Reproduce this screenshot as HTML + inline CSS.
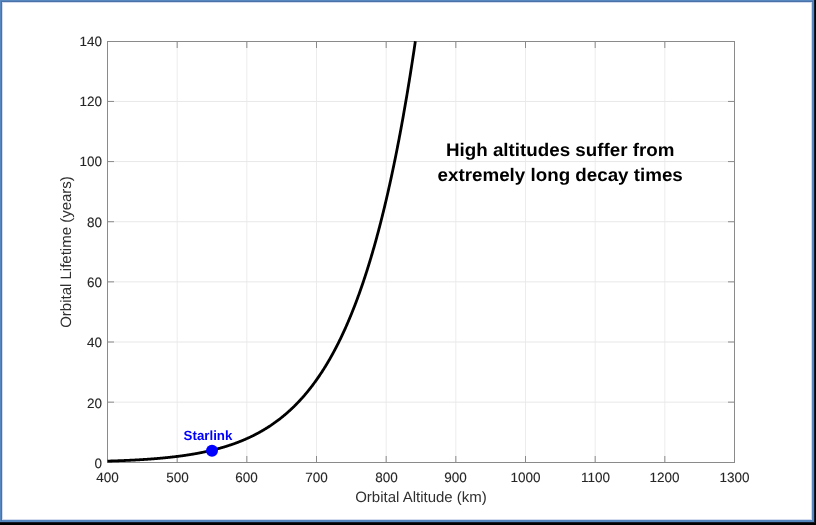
<!DOCTYPE html>
<html><head><meta charset="utf-8"><style>
html,body{margin:0;padding:0;background:#000;width:816px;height:525px;overflow:hidden}
svg{display:block;will-change:transform}
text{font-family:"Liberation Sans",sans-serif;text-rendering:geometricPrecision}
.tl{font-size:13.5px;fill:#262626;stroke:#262626;stroke-width:0.1px}
.al{font-size:15px;fill:#303030}
.sl{font-size:13.3px;font-weight:bold;fill:#0000ff}
.an{font-size:18.2px;font-weight:bold;fill:#000}
</style></head><body>
<svg width="816" height="525" viewBox="0 0 816 525">
<rect x="0" y="0" width="816" height="525" fill="#000"/>
<rect x="0" y="0" width="815" height="523" fill="#141a28"/>
<rect x="0" y="0" width="814" height="522" fill="#5787bf"/>
<rect x="1" y="1" width="1" height="520" fill="#4a72a8"/>
<rect x="1" y="1" width="812" height="1" fill="#4a72a8"/>
<rect x="2" y="2" width="810" height="518" fill="#d3dcef"/>
<rect x="3" y="3" width="808" height="516" fill="#fff"/>
<rect x="176.67" y="42.00" width="1.00" height="420.00" fill="#ececec"/>
<rect x="246.33" y="42.00" width="1.00" height="420.00" fill="#ececec"/>
<rect x="316.00" y="42.00" width="1.00" height="420.00" fill="#ececec"/>
<rect x="385.67" y="42.00" width="1.00" height="420.00" fill="#ececec"/>
<rect x="455.33" y="42.00" width="1.00" height="420.00" fill="#ececec"/>
<rect x="525.00" y="42.00" width="1.00" height="420.00" fill="#ececec"/>
<rect x="594.67" y="42.00" width="1.00" height="420.00" fill="#ececec"/>
<rect x="664.33" y="42.00" width="1.00" height="420.00" fill="#ececec"/>
<rect x="108.00" y="401.65" width="626.00" height="1.00" fill="#e8e8e8"/>
<rect x="108.00" y="341.50" width="626.00" height="1.00" fill="#e8e8e8"/>
<rect x="108.00" y="281.36" width="626.00" height="1.00" fill="#e8e8e8"/>
<rect x="108.00" y="221.22" width="626.00" height="1.00" fill="#e8e8e8"/>
<rect x="108.00" y="161.08" width="626.00" height="1.00" fill="#e8e8e8"/>
<rect x="108.00" y="100.93" width="626.00" height="1.00" fill="#e8e8e8"/>
<rect x="176.67" y="456.00" width="1.00" height="6.00" fill="#8a8a8a"/>
<rect x="176.67" y="42.00" width="1.00" height="6.00" fill="#8a8a8a"/>
<rect x="246.33" y="456.00" width="1.00" height="6.00" fill="#8a8a8a"/>
<rect x="246.33" y="42.00" width="1.00" height="6.00" fill="#8a8a8a"/>
<rect x="316.00" y="456.00" width="1.00" height="6.00" fill="#8a8a8a"/>
<rect x="316.00" y="42.00" width="1.00" height="6.00" fill="#8a8a8a"/>
<rect x="385.67" y="456.00" width="1.00" height="6.00" fill="#8a8a8a"/>
<rect x="385.67" y="42.00" width="1.00" height="6.00" fill="#8a8a8a"/>
<rect x="455.33" y="456.00" width="1.00" height="6.00" fill="#8a8a8a"/>
<rect x="455.33" y="42.00" width="1.00" height="6.00" fill="#8a8a8a"/>
<rect x="525.00" y="456.00" width="1.00" height="6.00" fill="#8a8a8a"/>
<rect x="525.00" y="42.00" width="1.00" height="6.00" fill="#8a8a8a"/>
<rect x="594.67" y="456.00" width="1.00" height="6.00" fill="#8a8a8a"/>
<rect x="594.67" y="42.00" width="1.00" height="6.00" fill="#8a8a8a"/>
<rect x="664.33" y="456.00" width="1.00" height="6.00" fill="#8a8a8a"/>
<rect x="664.33" y="42.00" width="1.00" height="6.00" fill="#8a8a8a"/>
<rect x="108.00" y="401.65" width="6.00" height="1.00" fill="#8a8a8a"/>
<rect x="728.00" y="401.65" width="6.00" height="1.00" fill="#8a8a8a"/>
<rect x="108.00" y="341.50" width="6.00" height="1.00" fill="#8a8a8a"/>
<rect x="728.00" y="341.50" width="6.00" height="1.00" fill="#8a8a8a"/>
<rect x="108.00" y="281.36" width="6.00" height="1.00" fill="#8a8a8a"/>
<rect x="728.00" y="281.36" width="6.00" height="1.00" fill="#8a8a8a"/>
<rect x="108.00" y="221.22" width="6.00" height="1.00" fill="#8a8a8a"/>
<rect x="728.00" y="221.22" width="6.00" height="1.00" fill="#8a8a8a"/>
<rect x="108.00" y="161.08" width="6.00" height="1.00" fill="#8a8a8a"/>
<rect x="728.00" y="161.08" width="6.00" height="1.00" fill="#8a8a8a"/>
<rect x="108.00" y="100.93" width="6.00" height="1.00" fill="#8a8a8a"/>
<rect x="728.00" y="100.93" width="6.00" height="1.00" fill="#8a8a8a"/>
<rect x="107.00" y="41.00" width="628.00" height="1.00" fill="#8a8a8a"/>
<rect x="107.00" y="462.00" width="628.00" height="1.00" fill="#8a8a8a"/>
<rect x="107.00" y="41.00" width="1.00" height="422.00" fill="#8a8a8a"/>
<rect x="734.00" y="41.00" width="1.00" height="422.00" fill="#8a8a8a"/>
<path d="M107.50,461.12 L107.85,461.11 L108.20,461.10 L108.55,461.09 L108.89,461.08 L109.24,461.07 L109.59,461.06 L109.94,461.04 L110.29,461.03 L110.64,461.02 L110.98,461.01 L111.33,461.00 L111.68,460.99 L112.03,460.98 L112.38,460.97 L112.72,460.96 L113.07,460.94 L113.42,460.93 L113.77,460.92 L114.12,460.91 L114.47,460.90 L114.81,460.89 L115.16,460.87 L115.51,460.86 L115.86,460.85 L116.21,460.84 L116.56,460.82 L116.91,460.81 L117.25,460.80 L117.60,460.79 L117.95,460.77 L118.30,460.76 L118.65,460.75 L119.00,460.73 L119.34,460.72 L119.69,460.71 L120.04,460.69 L120.39,460.68 L120.74,460.67 L121.08,460.65 L121.43,460.64 L121.78,460.63 L122.13,460.61 L122.48,460.60 L122.83,460.58 L123.17,460.57 L123.52,460.55 L123.87,460.54 L124.22,460.52 L124.57,460.51 L124.92,460.49 L125.27,460.48 L125.61,460.46 L125.96,460.45 L126.31,460.43 L126.66,460.42 L127.01,460.40 L127.36,460.39 L127.70,460.37 L128.05,460.36 L128.40,460.34 L128.75,460.32 L129.10,460.31 L129.44,460.29 L129.79,460.27 L130.14,460.26 L130.49,460.24 L130.84,460.22 L131.19,460.21 L131.53,460.19 L131.88,460.17 L132.23,460.15 L132.58,460.14 L132.93,460.12 L133.28,460.10 L133.62,460.08 L133.97,460.06 L134.32,460.05 L134.67,460.03 L135.02,460.01 L135.37,459.99 L135.72,459.97 L136.06,459.95 L136.41,459.93 L136.76,459.91 L137.11,459.89 L137.46,459.87 L137.81,459.86 L138.15,459.84 L138.50,459.82 L138.85,459.80 L139.20,459.78 L139.55,459.75 L139.89,459.73 L140.24,459.71 L140.59,459.69 L140.94,459.67 L141.29,459.65 L141.64,459.63 L141.99,459.61 L142.33,459.59 L142.68,459.56 L143.03,459.54 L143.38,459.52 L143.73,459.50 L144.07,459.48 L144.42,459.45 L144.77,459.43 L145.12,459.41 L145.47,459.38 L145.82,459.36 L146.16,459.34 L146.51,459.31 L146.86,459.29 L147.21,459.27 L147.56,459.24 L147.91,459.22 L148.25,459.19 L148.60,459.17 L148.95,459.14 L149.30,459.12 L149.65,459.09 L150.00,459.07 L150.34,459.04 L150.69,459.02 L151.04,458.99 L151.39,458.96 L151.74,458.94 L152.09,458.91 L152.44,458.88 L152.78,458.86 L153.13,458.83 L153.48,458.80 L153.83,458.78 L154.18,458.75 L154.53,458.72 L154.87,458.69 L155.22,458.66 L155.57,458.64 L155.92,458.61 L156.27,458.58 L156.62,458.55 L156.96,458.52 L157.31,458.49 L157.66,458.46 L158.01,458.43 L158.36,458.40 L158.70,458.37 L159.05,458.34 L159.40,458.31 L159.75,458.28 L160.10,458.25 L160.45,458.22 L160.80,458.19 L161.14,458.15 L161.49,458.12 L161.84,458.09 L162.19,458.06 L162.54,458.02 L162.88,457.99 L163.23,457.96 L163.58,457.92 L163.93,457.89 L164.28,457.86 L164.63,457.82 L164.97,457.79 L165.32,457.75 L165.67,457.72 L166.02,457.68 L166.37,457.65 L166.72,457.61 L167.06,457.58 L167.41,457.54 L167.76,457.51 L168.11,457.47 L168.46,457.43 L168.81,457.40 L169.16,457.36 L169.50,457.32 L169.85,457.28 L170.20,457.24 L170.55,457.21 L170.90,457.17 L171.25,457.13 L171.59,457.09 L171.94,457.05 L172.29,457.01 L172.64,456.97 L172.99,456.93 L173.33,456.89 L173.68,456.85 L174.03,456.81 L174.38,456.77 L174.73,456.73 L175.08,456.68 L175.43,456.64 L175.77,456.60 L176.12,456.56 L176.47,456.51 L176.82,456.47 L177.17,456.43 L177.51,456.38 L177.86,456.34 L178.21,456.29 L178.56,456.25 L178.91,456.20 L179.26,456.16 L179.61,456.11 L179.95,456.07 L180.30,456.02 L180.65,455.97 L181.00,455.93 L181.35,455.88 L181.69,455.83 L182.04,455.78 L182.39,455.74 L182.74,455.69 L183.09,455.64 L183.44,455.59 L183.78,455.54 L184.13,455.49 L184.48,455.44 L184.83,455.39 L185.18,455.34 L185.53,455.29 L185.88,455.24 L186.22,455.18 L186.57,455.13 L186.92,455.08 L187.27,455.03 L187.62,454.97 L187.97,454.92 L188.31,454.87 L188.66,454.81 L189.01,454.76 L189.36,454.70 L189.71,454.65 L190.06,454.59 L190.40,454.53 L190.75,454.48 L191.10,454.42 L191.45,454.36 L191.80,454.31 L192.14,454.25 L192.49,454.19 L192.84,454.13 L193.19,454.07 L193.54,454.01 L193.89,453.95 L194.24,453.89 L194.58,453.83 L194.93,453.77 L195.28,453.71 L195.63,453.65 L195.98,453.58 L196.32,453.52 L196.67,453.46 L197.02,453.39 L197.37,453.33 L197.72,453.27 L198.07,453.20 L198.41,453.14 L198.76,453.07 L199.11,453.00 L199.46,452.94 L199.81,452.87 L200.16,452.80 L200.50,452.74 L200.85,452.67 L201.20,452.60 L201.55,452.53 L201.90,452.46 L202.25,452.39 L202.59,452.32 L202.94,452.25 L203.29,452.18 L203.64,452.11 L203.99,452.03 L204.34,451.96 L204.69,451.89 L205.03,451.81 L205.38,451.74 L205.73,451.66 L206.08,451.59 L206.43,451.51 L206.77,451.44 L207.12,451.36 L207.47,451.28 L207.82,451.21 L208.17,451.13 L208.52,451.05 L208.87,450.97 L209.21,450.89 L209.56,450.81 L209.91,450.73 L210.26,450.65 L210.61,450.57 L210.95,450.48 L211.30,450.40 L211.65,450.32 L212.00,450.24 L212.35,450.15 L212.70,450.07 L213.05,449.98 L213.39,449.89 L213.74,449.81 L214.09,449.72 L214.44,449.63 L214.79,449.55 L215.13,449.46 L215.48,449.37 L215.83,449.28 L216.18,449.19 L216.53,449.10 L216.88,449.01 L217.22,448.91 L217.57,448.82 L217.92,448.73 L218.27,448.63 L218.62,448.54 L218.97,448.44 L219.31,448.35 L219.66,448.25 L220.01,448.16 L220.36,448.06 L220.71,447.96 L221.06,447.86 L221.41,447.76 L221.75,447.66 L222.10,447.56 L222.45,447.46 L222.80,447.36 L223.15,447.26 L223.50,447.16 L223.84,447.05 L224.19,446.95 L224.54,446.84 L224.89,446.74 L225.24,446.63 L225.58,446.52 L225.93,446.42 L226.28,446.31 L226.63,446.20 L226.98,446.09 L227.33,445.98 L227.68,445.87 L228.02,445.76 L228.37,445.64 L228.72,445.53 L229.07,445.42 L229.42,445.30 L229.76,445.19 L230.11,445.07 L230.46,444.96 L230.81,444.84 L231.16,444.72 L231.51,444.60 L231.86,444.48 L232.20,444.36 L232.55,444.24 L232.90,444.12 L233.25,444.00 L233.60,443.88 L233.94,443.75 L234.29,443.63 L234.64,443.50 L234.99,443.38 L235.34,443.25 L235.69,443.12 L236.03,442.99 L236.38,442.86 L236.73,442.73 L237.08,442.60 L237.43,442.47 L237.78,442.34 L238.12,442.21 L238.47,442.07 L238.82,441.94 L239.17,441.80 L239.52,441.66 L239.87,441.53 L240.22,441.39 L240.56,441.25 L240.91,441.11 L241.26,440.97 L241.61,440.83 L241.96,440.69 L242.31,440.54 L242.65,440.40 L243.00,440.25 L243.35,440.11 L243.70,439.96 L244.05,439.81 L244.40,439.67 L244.74,439.52 L245.09,439.37 L245.44,439.21 L245.79,439.06 L246.14,438.91 L246.48,438.76 L246.83,438.60 L247.18,438.44 L247.53,438.29 L247.88,438.13 L248.23,437.97 L248.57,437.81 L248.92,437.65 L249.27,437.49 L249.62,437.33 L249.97,437.16 L250.32,437.00 L250.66,436.83 L251.01,436.67 L251.36,436.50 L251.71,436.33 L252.06,436.16 L252.41,435.99 L252.75,435.82 L253.10,435.65 L253.45,435.48 L253.80,435.30 L254.15,435.13 L254.50,434.95 L254.84,434.77 L255.19,434.59 L255.54,434.41 L255.89,434.23 L256.24,434.05 L256.59,433.87 L256.94,433.68 L257.28,433.50 L257.63,433.31 L257.98,433.13 L258.33,432.94 L258.68,432.75 L259.02,432.56 L259.37,432.37 L259.72,432.17 L260.07,431.98 L260.42,431.78 L260.77,431.59 L261.12,431.39 L261.46,431.19 L261.81,430.99 L262.16,430.79 L262.51,430.59 L262.86,430.38 L263.20,430.18 L263.55,429.97 L263.90,429.77 L264.25,429.56 L264.60,429.35 L264.95,429.14 L265.29,428.93 L265.64,428.71 L265.99,428.50 L266.34,428.28 L266.69,428.07 L267.04,427.85 L267.38,427.63 L267.73,427.41 L268.08,427.19 L268.43,426.96 L268.78,426.74 L269.13,426.51 L269.48,426.29 L269.82,426.06 L270.17,425.83 L270.52,425.60 L270.87,425.36 L271.22,425.13 L271.56,424.89 L271.91,424.66 L272.26,424.42 L272.61,424.18 L272.96,423.94 L273.31,423.70 L273.65,423.45 L274.00,423.21 L274.35,422.96 L274.70,422.71 L275.05,422.47 L275.40,422.21 L275.75,421.96 L276.09,421.71 L276.44,421.45 L276.79,421.20 L277.14,420.94 L277.49,420.68 L277.84,420.42 L278.18,420.16 L278.53,419.89 L278.88,419.63 L279.23,419.36 L279.58,419.09 L279.93,418.82 L280.27,418.55 L280.62,418.27 L280.97,418.00 L281.32,417.72 L281.67,417.44 L282.01,417.16 L282.36,416.88 L282.71,416.60 L283.06,416.32 L283.41,416.03 L283.76,415.74 L284.11,415.45 L284.45,415.16 L284.80,414.87 L285.15,414.57 L285.50,414.28 L285.85,413.98 L286.19,413.68 L286.54,413.38 L286.89,413.07 L287.24,412.77 L287.59,412.46 L287.94,412.15 L288.28,411.84 L288.63,411.53 L288.98,411.22 L289.33,410.90 L289.68,410.59 L290.03,410.27 L290.38,409.95 L290.72,409.62 L291.07,409.30 L291.42,408.97 L291.77,408.64 L292.12,408.31 L292.47,407.98 L292.81,407.65 L293.16,407.31 L293.51,406.97 L293.86,406.63 L294.21,406.29 L294.56,405.95 L294.90,405.60 L295.25,405.26 L295.60,404.91 L295.95,404.55 L296.30,404.20 L296.64,403.85 L296.99,403.49 L297.34,403.13 L297.69,402.77 L298.04,402.40 L298.39,402.04 L298.74,401.67 L299.08,401.30 L299.43,400.93 L299.78,400.55 L300.13,400.18 L300.48,399.80 L300.82,399.42 L301.17,399.04 L301.52,398.65 L301.87,398.26 L302.22,397.88 L302.57,397.48 L302.91,397.09 L303.26,396.70 L303.61,396.30 L303.96,395.90 L304.31,395.49 L304.66,395.09 L305.00,394.68 L305.35,394.27 L305.70,393.86 L306.05,393.45 L306.40,393.03 L306.75,392.61 L307.10,392.19 L307.44,391.77 L307.79,391.34 L308.14,390.91 L308.49,390.48 L308.84,390.05 L309.19,389.61 L309.53,389.18 L309.88,388.74 L310.23,388.29 L310.58,387.85 L310.93,387.40 L311.27,386.95 L311.62,386.50 L311.97,386.04 L312.32,385.58 L312.67,385.12 L313.02,384.66 L313.37,384.19 L313.71,383.72 L314.06,383.25 L314.41,382.78 L314.76,382.30 L315.11,381.82 L315.45,381.34 L315.80,380.86 L316.15,380.37 L316.50,379.88 L316.85,379.39 L317.20,378.89 L317.54,378.40 L317.89,377.89 L318.24,377.39 L318.59,376.88 L318.94,376.37 L319.29,375.86 L319.63,375.35 L319.98,374.83 L320.33,374.31 L320.68,373.78 L321.03,373.26 L321.38,372.73 L321.73,372.20 L322.07,371.66 L322.42,371.12 L322.77,370.58 L323.12,370.03 L323.47,369.49 L323.81,368.94 L324.16,368.38 L324.51,367.83 L324.86,367.27 L325.21,366.70 L325.56,366.14 L325.90,365.57 L326.25,364.99 L326.60,364.42 L326.95,363.84 L327.30,363.26 L327.65,362.67 L328.00,362.08 L328.34,361.49 L328.69,360.90 L329.04,360.30 L329.39,359.69 L329.74,359.09 L330.09,358.48 L330.43,357.87 L330.78,357.25 L331.13,356.63 L331.48,356.01 L331.83,355.39 L332.17,354.76 L332.52,354.12 L332.87,353.49 L333.22,352.85 L333.57,352.20 L333.92,351.56 L334.26,350.91 L334.61,350.25 L334.96,349.59 L335.31,348.93 L335.66,348.27 L336.01,347.60 L336.36,346.93 L336.70,346.25 L337.05,345.57 L337.40,344.89 L337.75,344.20 L338.10,343.51 L338.44,342.81 L338.79,342.11 L339.14,341.41 L339.49,340.70 L339.84,339.99 L340.19,339.28 L340.53,338.56 L340.88,337.83 L341.23,337.11 L341.58,336.38 L341.93,335.64 L342.28,334.90 L342.62,334.16 L342.97,333.41 L343.32,332.66 L343.67,331.90 L344.02,331.14 L344.37,330.38 L344.72,329.61 L345.06,328.84 L345.41,328.06 L345.76,327.28 L346.11,326.50 L346.46,325.71 L346.81,324.91 L347.15,324.11 L347.50,323.31 L347.85,322.50 L348.20,321.69 L348.55,320.88 L348.89,320.06 L349.24,319.23 L349.59,318.40 L349.94,317.57 L350.29,316.73 L350.64,315.88 L350.99,315.03 L351.33,314.18 L351.68,313.32 L352.03,312.46 L352.38,311.59 L352.73,310.72 L353.07,309.84 L353.42,308.96 L353.77,308.07 L354.12,307.18 L354.47,306.29 L354.82,305.38 L355.16,304.48 L355.51,303.57 L355.86,302.65 L356.21,301.73 L356.56,300.80 L356.91,299.87 L357.25,298.93 L357.60,297.99 L357.95,297.04 L358.30,296.09 L358.65,295.13 L359.00,294.17 L359.35,293.20 L359.69,292.22 L360.04,291.24 L360.39,290.26 L360.74,289.27 L361.09,288.27 L361.44,287.27 L361.78,286.26 L362.13,285.25 L362.48,284.23 L362.83,283.21 L363.18,282.18 L363.52,281.15 L363.87,280.10 L364.22,279.06 L364.57,278.01 L364.92,276.95 L365.27,275.88 L365.62,274.81 L365.96,273.74 L366.31,272.66 L366.66,271.57 L367.01,270.47 L367.36,269.37 L367.70,268.27 L368.05,267.16 L368.40,266.04 L368.75,264.91 L369.10,263.78 L369.45,262.65 L369.80,261.50 L370.14,260.35 L370.49,259.20 L370.84,258.03 L371.19,256.87 L371.54,255.69 L371.88,254.51 L372.23,253.32 L372.58,252.13 L372.93,250.92 L373.28,249.72 L373.63,248.50 L373.98,247.28 L374.32,246.05 L374.67,244.82 L375.02,243.57 L375.37,242.33 L375.72,241.07 L376.06,239.81 L376.41,238.54 L376.76,237.26 L377.11,235.98 L377.46,234.69 L377.81,233.39 L378.15,232.08 L378.50,230.77 L378.85,229.45 L379.20,228.12 L379.55,226.79 L379.90,225.45 L380.25,224.10 L380.59,222.74 L380.94,221.37 L381.29,220.00 L381.64,218.62 L381.99,217.24 L382.33,215.84 L382.68,214.44 L383.03,213.03 L383.38,211.61 L383.73,210.18 L384.08,208.75 L384.43,207.31 L384.77,205.86 L385.12,204.40 L385.47,202.93 L385.82,201.46 L386.17,199.98 L386.51,198.48 L386.86,196.99 L387.21,195.48 L387.56,193.96 L387.91,192.44 L388.26,190.91 L388.61,189.36 L388.95,187.81 L389.30,186.26 L389.65,184.69 L390.00,183.11 L390.35,181.53 L390.69,179.94 L391.04,178.33 L391.39,176.72 L391.74,175.10 L392.09,173.47 L392.44,171.83 L392.78,170.19 L393.13,168.53 L393.48,166.86 L393.83,165.19 L394.18,163.50 L394.53,161.81 L394.88,160.11 L395.22,158.40 L395.57,156.67 L395.92,154.94 L396.27,153.20 L396.62,151.45 L396.96,149.69 L397.31,147.92 L397.66,146.14 L398.01,144.35 L398.36,142.54 L398.71,140.73 L399.06,138.91 L399.40,137.08 L399.75,135.24 L400.10,133.39 L400.45,131.53 L400.80,129.66 L401.14,127.77 L401.49,125.88 L401.84,123.98 L402.19,122.06 L402.54,120.14 L402.89,118.20 L403.24,116.25 L403.58,114.30 L403.93,112.33 L404.28,110.35 L404.63,108.36 L404.98,106.36 L405.32,104.34 L405.67,102.32 L406.02,100.28 L406.37,98.24 L406.72,96.18 L407.07,94.11 L407.42,92.02 L407.76,89.93 L408.11,87.83 L408.46,85.71 L408.81,83.58 L409.16,81.44 L409.50,79.29 L409.85,77.12 L410.20,74.95 L410.55,72.76 L410.90,70.55 L411.25,68.34 L411.59,66.11 L411.94,63.88 L412.29,61.62 L412.64,59.36 L412.99,57.08 L413.34,54.79 L413.69,52.49 L414.03,50.18 L414.38,47.85 L414.73,45.51 L415.08,43.15 L415.35,41.30" fill="none" stroke="#000" stroke-width="2.8" stroke-linejoin="round"/>
<circle cx="212" cy="450.8" r="6" fill="#0000ff"/>
<text x="107.5" y="481.5" text-anchor="middle" class="tl">400</text>
<text x="177.5" y="481.5" text-anchor="middle" class="tl">500</text>
<text x="246.5" y="481.5" text-anchor="middle" class="tl">600</text>
<text x="316.5" y="481.5" text-anchor="middle" class="tl">700</text>
<text x="386.5" y="481.5" text-anchor="middle" class="tl">800</text>
<text x="455.5" y="481.5" text-anchor="middle" class="tl">900</text>
<text x="525.5" y="481.5" text-anchor="middle" class="tl">1000</text>
<text x="595.5" y="481.5" text-anchor="middle" class="tl">1100</text>
<text x="664.5" y="481.5" text-anchor="middle" class="tl">1200</text>
<text x="734.5" y="481.5" text-anchor="middle" class="tl">1300</text>
<text x="102" y="468.00" text-anchor="end" class="tl">0</text>
<text x="102" y="407.69" text-anchor="end" class="tl">20</text>
<text x="102" y="347.38" text-anchor="end" class="tl">40</text>
<text x="102" y="287.07" text-anchor="end" class="tl">60</text>
<text x="102" y="226.76" text-anchor="end" class="tl">80</text>
<text x="102" y="166.45" text-anchor="end" class="tl">100</text>
<text x="102" y="106.14" text-anchor="end" class="tl">120</text>
<text x="102" y="45.83" text-anchor="end" class="tl">140</text>
<text x="421" y="502" text-anchor="middle" class="al">Orbital Altitude (km)</text>
<text transform="translate(71,252) rotate(-90)" x="0" y="0" text-anchor="middle" class="al">Orbital Lifetime (years)</text>
<text x="208" y="440" text-anchor="middle" class="sl">Starlink</text>
<g transform="translate(560.2,0) scale(1.032,1)"><text x="0" y="156.4" text-anchor="middle" class="an">High altitudes suffer from</text>
<text x="0" y="180.8" text-anchor="middle" class="an">extremely long decay times</text></g>
</svg></body></html>
